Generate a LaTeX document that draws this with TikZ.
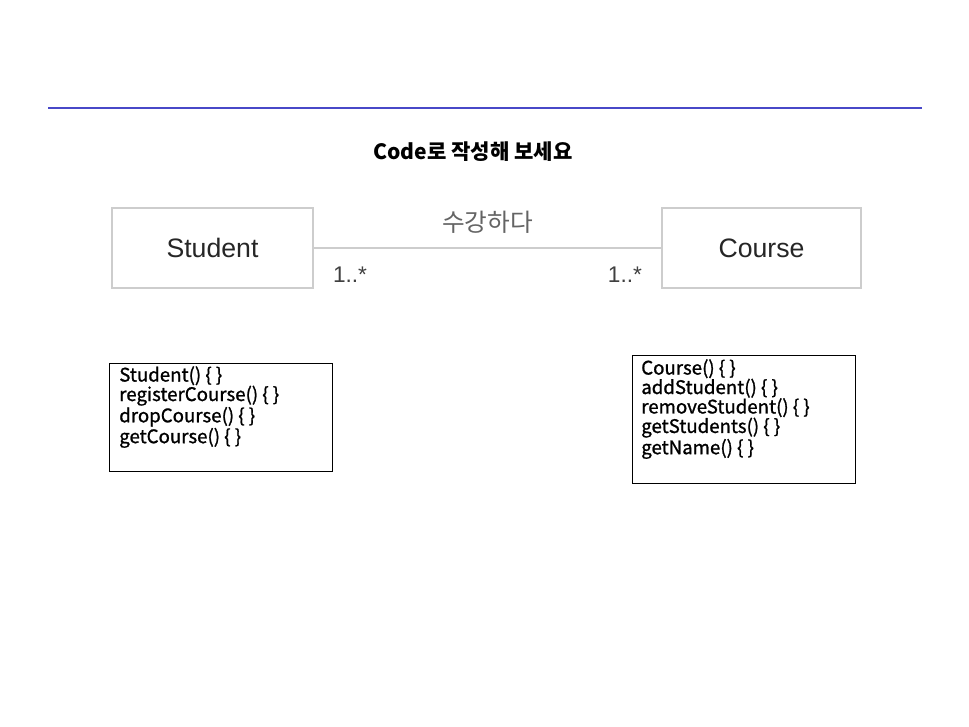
\documentclass[tikz,border=0pt]{standalone}
\usepackage{fontspec}
\setmainfont{Liberation Sans}
\newfontfamily\krfont{Noto Sans CJK KR}
\newfontfamily\opsfont[FakeBold=1.1]{Noto Sans CJK KR}
\usepackage{tikz}
\usetikzlibrary{positioning}
\definecolor{ruleblue}{RGB}{72,72,200}
\definecolor{boxgray}{RGB}{205,205,205}
\definecolor{assocgray}{RGB}{100,100,100}
\tikzset{
  classbox/.style={rectangle, draw=boxgray, line width=1pt,
    minimum height=60pt, inner sep=0pt,
    font=\fontsize{20}{24}\selectfont, text=black!85},
  opsbox/.style={rectangle, draw=black, line width=0.8pt,
    minimum width=167.25pt, anchor=north west, inner sep=0pt},
  opstext/.style={anchor=north west, align=left, inner sep=0pt,
    font=\opsfont\fontsize{14}{14.6}\selectfont},
  mult/.style={inner sep=0pt, font=\fontsize{17}{20}\selectfont, text=black!75},
  assoc/.style={draw=boxgray, line width=1pt}
}

\begin{document}
\begin{tikzpicture}[x=0.75pt, y=-0.75pt]
  \useasboundingbox[fill=white] (0,0) rectangle (969,726);

  % Header rule and title
  \draw[ruleblue, line width=1.6pt] (48,108) -- (922,108);
  \node (title) at (473,152) {\krfont\bfseries\fontsize{15.8}{18}\selectfont Code로 작성해 보세요};

  % Class boxes
  \node[classbox, minimum width=150.75pt] (student) at (212.5,248) {Student};
  \node[classbox, minimum width=149.25pt] (course) at (761.5,248) {Course};

  % Association
  \draw[assoc] (student) -- (course)
    node[midway, yshift=19.5pt, font=\krfont\fontsize{18.5}{20}\selectfont, text=assocgray] (takes) {수강하다}
    node[pos=0, mult, anchor=north west, xshift=14pt, yshift=-14pt] (smult) {1..*}
    node[pos=1, mult, anchor=north east, xshift=-14pt, yshift=-14pt] (cmult) {1..*};

  % Operation boxes
  \node[opsbox, minimum height=81pt] (stdops) at (109,363) {};
  \node[opstext] (stdlist) at (119,366) {Student() \{ \}\\registerCourse() \{ \}\\dropCourse() \{ \}\\getCourse() \{ \}};

  \node[opsbox, minimum height=96pt] (crsops) at (632,355) {};
  \node[opstext] (crslist) at (641,359) {Course() \{ \}\\addStudent() \{ \}\\removeStudent() \{ \}\\getStudents() \{ \}\\getName() \{ \}};
\end{tikzpicture}
\end{document}
